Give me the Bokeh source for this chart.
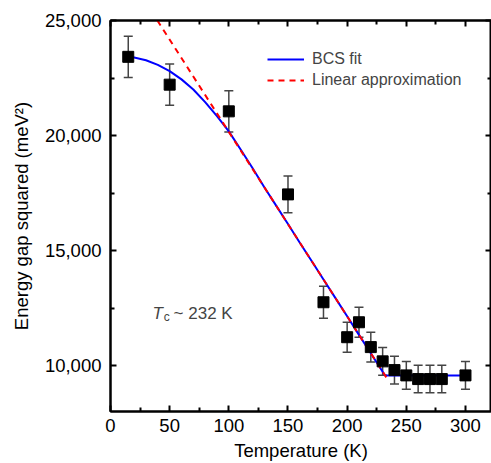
from bokeh.plotting import figure
from bokeh.models import (ColumnDataSource, Whisker, TeeHead, LinearAxis, Legend, LegendItem,
                          NumeralTickFormatter, Range1d, Label, FixedTicker)
from bokeh.embed import file_html
from bokeh.resources import INLINE

# ---- data ----
temperature = [15, 50, 100, 150, 180, 200, 210, 220, 230, 240, 250, 260, 270, 280, 300]
gap_sq = [23420, 22210, 21050, 17440, 12750, 11230, 11880, 10800, 10180, 9800, 9570, 9410, 9410, 9410, 9570]
gap_err = [900, 900, 900, 800, 700, 650, 650, 650, 600, 600, 600, 600, 600, 600, 600]

bcs_T = [15, 20, 30, 40, 50, 60, 70, 80, 90, 100, 110, 120, 130, 140, 150, 160, 170, 180,
         190, 200, 210, 220, 230, 232, 300]
bcs_val = [23420, 23390, 23270, 23070, 22800, 22440, 22000, 21450, 20840, 20180, 19390, 18590,
           17750, 16950, 16150, 15340, 14540, 13740, 12940, 12140, 11330, 10530, 9730, 9570, 9570]

lin_T = [39.6, 235]
lin_val = [25000, 9330]

x_ticks = [0, 50, 100, 150, 200, 250, 300]
x_minor = [25, 75, 125, 175, 225, 275]
y_ticks = [10000, 15000, 20000, 25000]
y_minor = [12500, 17500, 22500]

FONT = "Liberation Sans"

p = figure(width=491, height=463, output_backend="svg", toolbar_location=None,
           x_range=Range1d(0, 322), y_range=Range1d(8000, 25000),
           min_border_left=110, min_border_right=0, min_border_top=20, min_border_bottom=0)
p.grid.visible = False
p.outline_line_color = "black"
p.outline_line_width = 2

src = ColumnDataSource(dict(x=temperature, y=gap_sq,
                            lo=[v - e for v, e in zip(gap_sq, gap_err)],
                            hi=[v + e for v, e in zip(gap_sq, gap_err)]))

bcs = p.line(bcs_T, bcs_val, line_color="#0000ff", line_width=2)
lin = p.line(lin_T, lin_val, line_color="#ff0000", line_width=2, line_dash="6 5")

wh = Whisker(source=src, base="x", upper="hi", lower="lo", line_color="#444444", line_width=1.5,
             upper_head=TeeHead(size=9, line_color="#444444", line_width=1.5),
             lower_head=TeeHead(size=9, line_color="#444444", line_width=1.5))
p.add_layout(wh)
p.scatter("x", "y", source=src, marker="square", size=11, fill_color="black", line_color="black")

def style_axis(ax):
    ax.axis_line_color = "black"
    ax.axis_line_width = 2
    ax.major_tick_line_color = "black"
    ax.minor_tick_line_color = "black"
    ax.major_tick_line_width = 2
    ax.minor_tick_line_width = 2
    ax.major_tick_in = 6
    ax.major_tick_out = 0
    ax.minor_tick_in = 4
    ax.minor_tick_out = 0
    ax.major_label_text_font = FONT
    ax.major_label_text_font_size = "18.5px"
    ax.major_label_text_color = "black"
    ax.axis_label_text_font = FONT
    ax.axis_label_text_font_size = "18.5px"
    ax.axis_label_text_font_style = "normal"
    ax.axis_label_text_color = "black"

xaxis = p.xaxis[0]
yaxis = p.yaxis[0]
xaxis.ticker = FixedTicker(ticks=x_ticks, minor_ticks=x_minor)
yaxis.ticker = FixedTicker(ticks=y_ticks, minor_ticks=y_minor)
yaxis.formatter = NumeralTickFormatter(format="0,0")
style_axis(xaxis)
style_axis(yaxis)
xaxis.axis_label = "Temperature (K)"
yaxis.axis_label = "Energy gap squared (meV²)"
xaxis.major_label_standoff = 7
xaxis.axis_label_standoff = 5
yaxis.major_label_standoff = 9
yaxis.axis_label_standoff = 10

# mirrored axes on top / right: ticks only
top = LinearAxis(ticker=FixedTicker(ticks=x_ticks, minor_ticks=x_minor))
style_axis(top)
top.major_label_text_color = None
top.major_label_standoff = 0
p.add_layout(top, "above")
right = LinearAxis(ticker=FixedTicker(ticks=y_ticks, minor_ticks=y_minor))
style_axis(right)
right.major_label_text_color = None
right.major_label_standoff = 0
p.add_layout(right, "right")

legend = Legend(items=[LegendItem(label="BCS fit", renderers=[bcs]),
                       LegendItem(label="Linear approximation", renderers=[lin])],
                location=(157, 321), padding=0, margin=0, spacing=1,
                glyph_width=37, glyph_height=20, label_height=20, label_standoff=8,
                label_text_font=FONT, label_text_font_size="16px",
                border_line_color=None, background_fill_alpha=0)
p.add_layout(legend)

p.add_layout(Label(x=35.5, y=12270, text="T", text_font=FONT, text_font_style="italic",
                   text_font_size="17px", text_baseline="alphabetic"))
p.add_layout(Label(x=45, y=12100, text="c", text_font=FONT, text_font_size="12px",
                   text_baseline="alphabetic"))
p.add_layout(Label(x=53.3, y=12270, text="~ 232 K", text_font=FONT,
                   text_font_size="17px", text_baseline="alphabetic"))

open("out.html", "w").write(file_html(p, INLINE))
